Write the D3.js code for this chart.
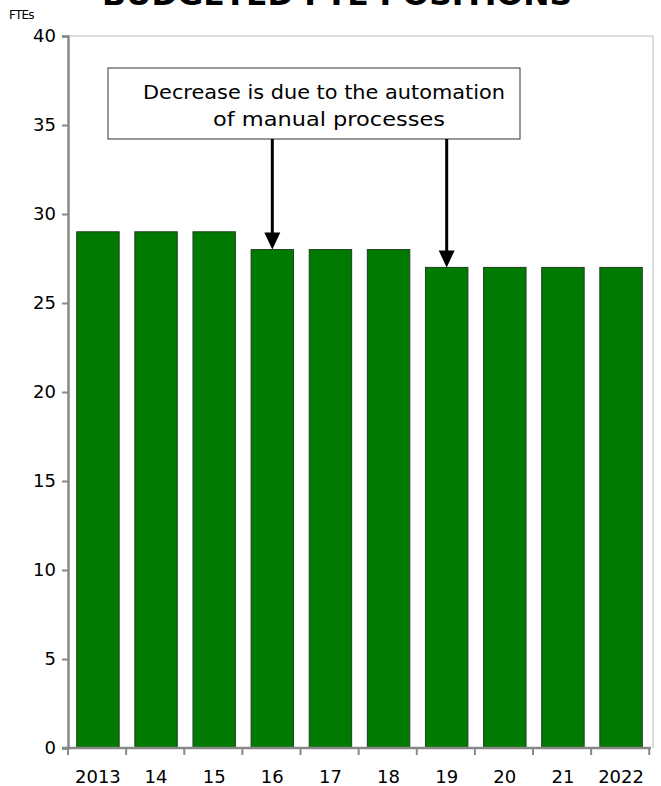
<!DOCTYPE html>
<html><head><meta charset="utf-8">
<script src="https://cdn.jsdelivr.net/npm/d3@7"></script>
<style>body{margin:0;background:#fff}svg{display:block}</style>
</head><body>
<script>
const categories = ["2013","14","15","16","17","18","19","20","21","2022"];
const values = [29,29,29,28,28,28,27,27,27,27];
const yTicks = [0,5,10,15,20,25,30,35,40];
const titleText = "BUDGETED FTE POSITIONS";
const unitLabel = "FTEs";
const noteLines = ["Decrease is due to the automation","of manual processes"];
const arrowTargets = ["16","19"];

const W=661,H=786;
const m={left:68,right:653,top:36,bottom:748};
const svg=d3.select("body").append("svg").attr("width",W).attr("height",H);
const font="DejaVu Sans, Verdana, sans-serif";

const x=d3.scaleBand().domain(categories).range([m.left,651]).paddingInner(0.27).paddingOuter(0.15);
const y=d3.scaleLinear().domain([0,40]).range([m.bottom,m.top]);

// title (cut off at top, as in the original)
svg.append("text").attr("x",102).attr("y",5).attr("textLength",470).attr("lengthAdjust","spacingAndGlyphs")
  .attr("font-family",font).attr("font-weight","bold").attr("font-size",30).attr("fill","#000").text(titleText);

// plot frame (top/right light)
svg.append("line").attr("x1",m.left).attr("x2",m.right).attr("y1",m.top).attr("y2",m.top).attr("stroke","#bbb").attr("stroke-width",1);
svg.append("line").attr("x1",m.right).attr("x2",m.right).attr("y1",m.top).attr("y2",m.bottom).attr("stroke","#bbb").attr("stroke-width",1);

// bars
svg.selectAll("rect.bar").data(values).join("rect").attr("class","bar")
  .attr("x",(d,i)=>x(categories[i])).attr("width",x.bandwidth())
  .attr("y",d=>y(d)).attr("height",d=>y(0)-y(d))
  .attr("fill","#007a00").attr("stroke","#1e3d1e").attr("stroke-width",1);

// y axis
const yAxis=svg.append("g").attr("transform",`translate(${m.left},0)`)
  .call(d3.axisLeft(y).tickValues(yTicks).tickSize(6).tickPadding(6));
yAxis.select(".domain").attr("stroke","#888").attr("stroke-width",2.5);
yAxis.selectAll(".tick line").attr("stroke","#888").attr("stroke-width",2);
yAxis.selectAll(".tick text").attr("font-family",font).attr("font-size",18).attr("fill","#000");

// x axis
const step=x.step();
const xb=d3.scaleLinear().domain([0,categories.length]).range([m.left,m.left+step*categories.length]);
const bounds=d3.range(0,categories.length+1);
const xAxisG=svg.append("g");
xAxisG.append("line").attr("x1",m.left-6).attr("x2",651).attr("y1",m.bottom).attr("y2",m.bottom).attr("stroke","#888").attr("stroke-width",2.5);
xAxisG.selectAll("line.t").data(bounds).join("line").attr("class","t")
  .attr("x1",d=>xb(d)).attr("x2",d=>xb(d)).attr("y1",m.bottom).attr("y2",m.bottom+7).attr("stroke","#888").attr("stroke-width",2);
xAxisG.selectAll("text").data(categories).join("text")
  .attr("x",d=>x(d)+x.bandwidth()/2).attr("y",783).attr("text-anchor","middle")
  .attr("font-family",font).attr("font-size",18).attr("fill","#000").text(d=>d);

// unit label
svg.append("text").attr("x",9).attr("y",19).attr("font-family",font).attr("font-size",12).attr("letter-spacing",-0.8).attr("fill","#000").text(unitLabel);

// annotation box
svg.append("rect").attr("x",108).attr("y",68).attr("width",412).attr("height",71).attr("fill","#fff").attr("stroke","#333").attr("stroke-width",1);
const noteX=[143,213], noteW=[362,232];
svg.selectAll("text.note").data(noteLines).join("text").attr("class","note")
  .attr("x",(d,i)=>noteX[i]).attr("y",(d,i)=>99+i*27)
  .attr("textLength",(d,i)=>noteW[i]).attr("lengthAdjust","spacingAndGlyphs")
  .attr("font-family",font).attr("font-size",19).attr("fill","#000").text(d=>d);

// arrows
arrowTargets.forEach(c=>{
  const i=categories.indexOf(c);
  const cx=x(c)+x.bandwidth()/2, ty=y(values[i]);
  svg.append("line").attr("x1",cx).attr("x2",cx).attr("y1",139).attr("y2",ty-14).attr("stroke","#000").attr("stroke-width",3);
  svg.append("path").attr("d",`M${cx-8},${ty-17}L${cx+8},${ty-17}L${cx},${ty}Z`).attr("fill","#000");
});
</script>
</body></html>
